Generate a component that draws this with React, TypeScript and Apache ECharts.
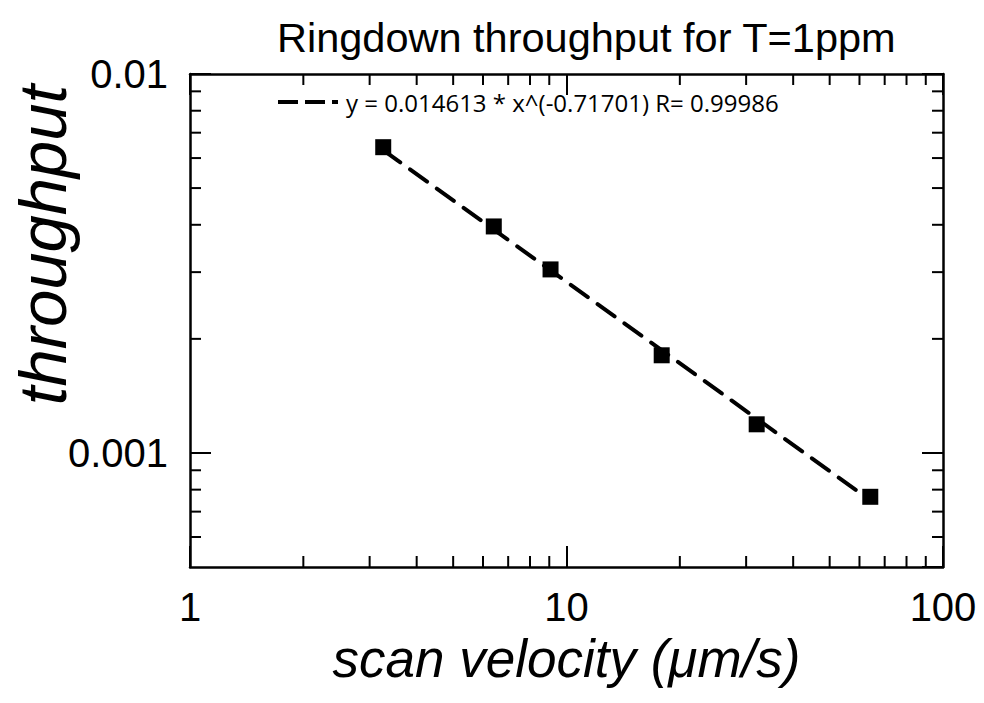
import React, { useEffect, useRef } from "react";
import * as echarts from "echarts";

// measured data
const velocity = [3.26, 6.41, 9.07, 17.9, 32.0, 64.1];
const throughput = [0.00641, 0.00396, 0.00305, 0.00181, 0.00119, 0.000766];
// fitted power-law line endpoints
const fitX = [3.26, 64.1];
const fitY = [0.0063, 0.00075];
const fitName = "y = 0.014613 * x^(-0.71701) R= 0.99986";

// axes
const xMin = 1;
const xMax = 100;
const yMin = 0.0005;
const yMax = 0.01;
const xTickValues = [1, 10, 100];
const xTickLabels = ["1", "10", "100"];
const yTickValues = [0.001, 0.01];
const yTickLabels = ["0.001", "0.01"];
const xMinorTicks = [2, 3, 4, 5, 6, 7, 8, 9, 20, 30, 40, 50, 60, 70, 80, 90];
const yMinorTicks = [0.0006, 0.0007, 0.0008, 0.0009, 0.002, 0.003, 0.004, 0.005, 0.006, 0.007, 0.008, 0.009];

const titleText = "Ringdown throughput for T=1ppm";
const xName = "scan velocity (\u03bcm/s)";
const yName = "throughput";

const FONT = "Liberation Sans";

function lookup(values: number[], labels: string[]) {
  return (v: number) => {
    const i = values.findIndex((t) => Math.abs(Math.log10(t) - Math.log10(v)) < 1e-6);
    return i >= 0 ? labels[i] : "";
  };
}

export default function App() {
  const ref = useRef<HTMLDivElement>(null);
  useEffect(() => {
    if (!ref.current) return;
    const chart = echarts.init(ref.current, undefined, { renderer: "svg" });
    const axisLine = { show: true, onZero: false, lineStyle: { color: "#000", width: 2.5 } };
    const majorTick = { show: true, inside: true, length: 21, lineStyle: { color: "#000", width: 2 } };
    const minorLen = 11;
    const tickStyle = { stroke: "#000", lineWidth: 2 };
    chart.setOption({
      animation: false,
      backgroundColor: "#fff",
      textStyle: { fontFamily: FONT, color: "#000" },
      title: {
        text: titleText,
        left: 277,
        top: 16,
        padding: 0,
        textStyle: { fontFamily: FONT, fontSize: 41.5, fontWeight: "normal", color: "#000" },
      },
      legend: {
        data: [fitName],
        left: 278,
        top: 90,
        padding: 0,
        icon: "path://M0,0h20v4h-20zM27,0h20v4h-20zM54,0h6v4h-6z",
        itemWidth: 66,
        itemHeight: 4,
        itemGap: 0,
        textStyle: { fontFamily: "Open Sans", fontSize: 24, color: "#000" },
      },
      grid: { left: 190, right: 41, top: 74, bottom: 136, containLabel: false },
      xAxis: [
        {
          type: "log",
          logBase: 10,
          min: xMin,
          max: xMax,
          position: "bottom",
          axisLine,
          axisTick: majorTick,
          splitLine: { show: false },
          axisLabel: {
            fontFamily: FONT,
            fontSize: 40,
            color: "#000",
            margin: 20,
            formatter: lookup(xTickValues, xTickLabels),
          },
          name: xName,
          nameLocation: "middle",
          nameGap: 60,
          nameTextStyle: { fontFamily: FONT, fontSize: 53, fontStyle: "italic", color: "#000" },
        },
        {
          type: "log",
          logBase: 10,
          min: xMin,
          max: xMax,
          position: "top",
          axisLine,
          axisTick: majorTick,
          splitLine: { show: false },
          axisLabel: { show: false },
        },
      ],
      yAxis: [
        {
          type: "log",
          logBase: 10,
          min: yMin,
          max: yMax,
          position: "left",
          axisLine,
          axisTick: majorTick,
          splitLine: { show: false },
          axisLabel: {
            fontFamily: FONT,
            fontSize: 40,
            color: "#000",
            margin: 22,
            showMinLabel: false,
            formatter: lookup(yTickValues, yTickLabels),
          },
        },
        {
          type: "log",
          logBase: 10,
          min: yMin,
          max: yMax,
          position: "right",
          axisLine,
          axisTick: majorTick,
          splitLine: { show: false },
          axisLabel: { show: false },
        },
      ],
      graphic: [
        {
          type: "text",
          x: 42,
          y: 245,
          rotation: Math.PI / 2,
          style: {
            text: yName,
            fontFamily: FONT,
            fontSize: 67,
            fontStyle: "italic",
            fill: "#000",
            align: "center",
            verticalAlign: "middle",
          },
        },
      ],
      series: [
        {
          name: fitName,
          type: "line",
          data: fitX.map((x, i) => [x, fitY[i]]),
          showSymbol: false,
          symbol: "none",
          color: "#000",
          lineStyle: { color: "#000", width: 4, type: [21, 12], cap: "round" },
          silent: true,
          z: 2,
        },
        {
          name: "data",
          type: "scatter",
          data: velocity.map((x, i) => [x, throughput[i]]),
          symbol: "rect",
          symbolSize: 16,
          itemStyle: { color: "#000", opacity: 1 },
          z: 3,
        },
        {
          name: "xminor",
          type: "custom",
          silent: true,
          clip: false,
          data: xMinorTicks.map((v) => [v, yMax]),
          encode: { x: 0, y: 1 },
          renderItem: (_p: any, api: any) => {
            const v = api.value(0);
            const b = api.coord([v, yMin]);
            const t = api.coord([v, yMax]);
            return {
              type: "group",
              children: [
                { type: "line", shape: { x1: b[0], y1: b[1], x2: b[0], y2: b[1] - minorLen }, style: tickStyle },
                { type: "line", shape: { x1: t[0], y1: t[1], x2: t[0], y2: t[1] + minorLen }, style: tickStyle },
              ],
            };
          },
        },
        {
          name: "yminor",
          type: "custom",
          silent: true,
          clip: false,
          data: yMinorTicks.map((v) => [xMin, v]),
          encode: { x: 0, y: 1 },
          renderItem: (_p: any, api: any) => {
            const v = api.value(1);
            const l = api.coord([xMin, v]);
            const r = api.coord([xMax, v]);
            return {
              type: "group",
              children: [
                { type: "line", shape: { x1: l[0], y1: l[1], x2: l[0] + minorLen, y2: l[1] }, style: tickStyle },
                { type: "line", shape: { x1: r[0], y1: r[1], x2: r[0] - minorLen, y2: r[1] }, style: tickStyle },
              ],
            };
          },
        },
      ],
    });
    return () => chart.dispose();
  }, []);
  return (
    <div
      ref={ref}
      style={{ position: "absolute", left: 0, top: 0, width: 984, height: 703, background: "#fff" }}
    />
  );
}
